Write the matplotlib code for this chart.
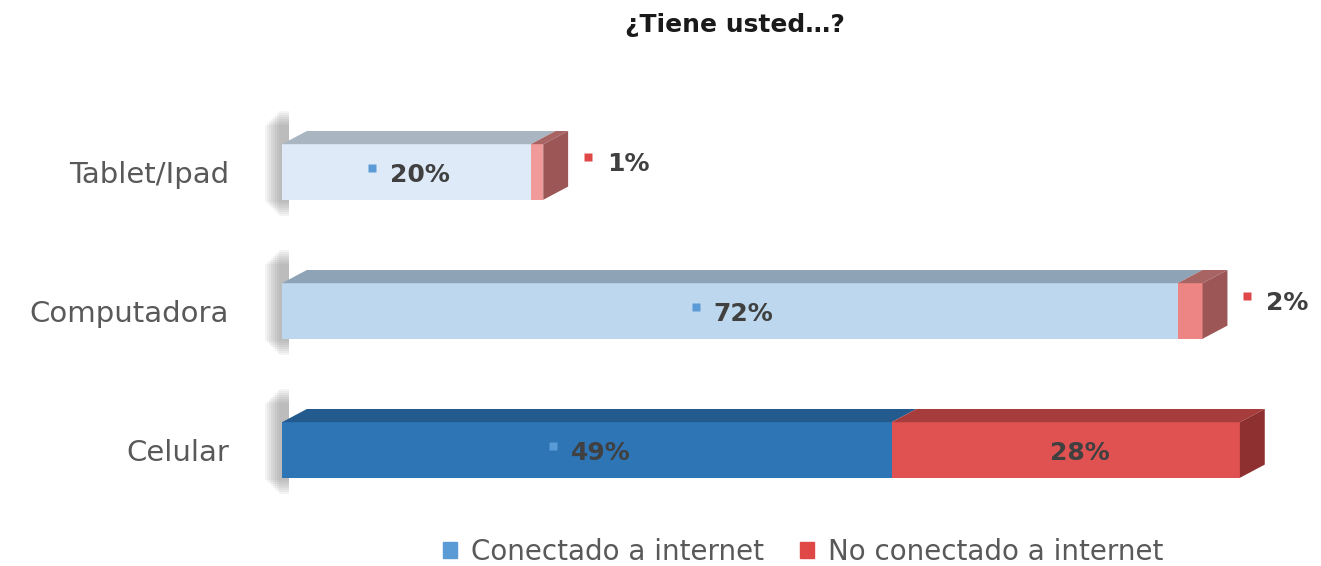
import numpy as np
import matplotlib.pyplot as plt
from matplotlib.patches import Polygon, Rectangle, Patch

# Datos
categorias = ['Celular', 'Computadora', 'Tablet/Ipad']
conectado = [49, 72, 20]
no_conectado = [28, 2, 1]
etiquetas_fuera = [False, True, True]   # la etiqueta roja va fuera de la barra

# Colores por categoria (frente, tapa)
azul_frente = ['#2e75b6', '#bdd7ee', '#deeaf8']
azul_tapa = ['#245b8e', '#8ea3b6', '#a9b6c1']
rojo_frente = ['#e05252', '#ee8585', '#f09a9a']
rojo_tapa = ['#a63c3c', '#a86363', '#a86363']
rojo_lado = ['#8e3030', '#9c5656', '#9c5656']
azul_leyenda = '#5b9bd5'
rojo_leyenda = '#e04848'

fig = plt.figure(figsize=(13.21, 5.66), dpi=100)
ax = fig.add_axes([282 / 1321, 46 / 566, 1018 / 1321, 420 / 566])
ax.set_xlim(0, 1018 / 12.44)
ax.set_ylim(-70 / 139, 2 + 72 / 139)
for s in ax.spines.values():
    s.set_visible(False)
ax.set_xticks([])

y = np.arange(len(categorias))
alto = 0.40
dx = 2.0     # profundidad en x
dy = 0.095   # profundidad en y


def caja(x0, ancho, yc, frente, tapa, lado=None):
    ax.barh(yc, ancho, left=x0, height=alto, color=frente, edgecolor='none', zorder=3)
    top = yc + alto / 2
    bot = yc - alto / 2
    ax.add_patch(Polygon([(x0, top), (x0 + dx, top + dy), (x0 + ancho + dx, top + dy),
                          (x0 + ancho, top)], closed=True, color=tapa, lw=0, zorder=3))
    if lado is not None:
        x1 = x0 + ancho
        ax.add_patch(Polygon([(x1, bot), (x1 + dx, bot + dy), (x1 + dx, top + dy), (x1, top)],
                             closed=True, color=lado, lw=0, zorder=3))


for i, yc in enumerate(y):
    # sombra de la pared izquierda
    for k in range(8):
        w = 0.25 + k * 0.16
        ax.add_patch(Rectangle((-w, yc - alto / 2 - 0.12 + k * 0.015), w + 0.6,
                               alto + 0.36 - k * 0.03, color='#6e6e6e', alpha=0.07,
                               lw=0, zorder=1, clip_on=False))
    caja(0, conectado[i], yc, azul_frente[i], azul_tapa[i])
    caja(conectado[i], no_conectado[i], yc, rojo_frente[i], rojo_tapa[i], rojo_lado[i])

    # etiqueta conectado
    cx = conectado[i] / 2
    ax.plot(cx - 2.75, yc + 0.03, marker='s', ms=6, color=azul_leyenda, mec='none',
            linestyle='none', zorder=5)
    ax.text(cx - 1.3, yc - 0.025, f'{conectado[i]}%', ha='left', va='center',
            fontsize=18, fontweight='bold', color='#404040', zorder=6)

    # etiqueta no conectado
    fin = conectado[i] + no_conectado[i]
    if etiquetas_fuera[i]:
        ax.plot(fin + 3.6, yc + 0.11, marker='s', ms=6, color=rojo_leyenda, mec='none',
                linestyle='none', zorder=5)
        ax.text(fin + 5.1, yc + 0.06, f'{no_conectado[i]}%', ha='left', va='center',
                fontsize=18, fontweight='bold', color='#404040', zorder=6)
    else:
        cx2 = conectado[i] + no_conectado[i] / 2
        ax.plot(cx2 - 2.75, yc + 0.03, marker='s', ms=6, color=rojo_frente[i], mec='none',
                linestyle='none', zorder=5)
        ax.text(cx2 - 1.3, yc - 0.025, f'{no_conectado[i]}%', ha='left', va='center',
                fontsize=18, fontweight='bold', color='#404040', zorder=6)

ax.set_yticks(y)
ax.set_yticklabels(categorias, fontsize=21, color='#595959')
ax.tick_params(axis='y', length=0, pad=38)

fig.text(0.556, 0.955, '¿Tiene usted…?', ha='center', va='center', fontsize=18,
         fontweight='bold', color='#1a1a1a')

handles = [Patch(color=azul_leyenda, label='Conectado a internet'),
           Patch(color=rojo_leyenda, label='No conectado a internet')]
leg = fig.legend(handles=handles, loc='center', bbox_to_anchor=(0.608, 0.025), ncol=2,
                 frameon=False, fontsize=20, handlelength=0.5, handleheight=0.5,
                 handletextpad=0.5, columnspacing=1.3)
for t in leg.get_texts():
    t.set_color('#595959')

fig.savefig('out.png', dpi=100)
